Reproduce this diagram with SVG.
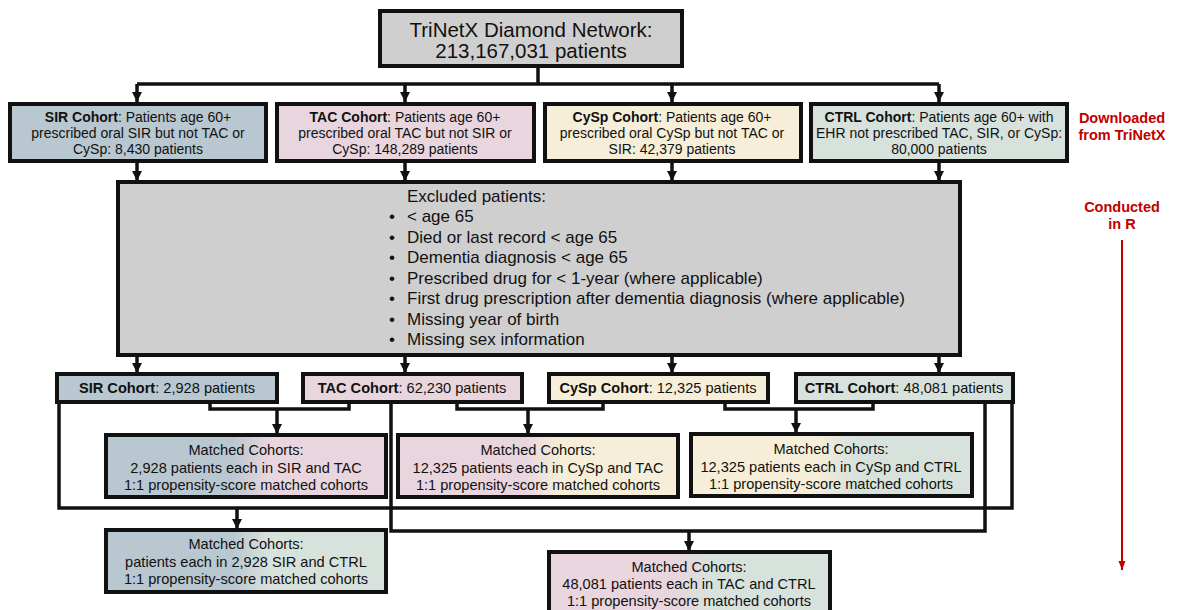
<svg xmlns="http://www.w3.org/2000/svg" width="1178" height="610" viewBox="0 0 1178 610">
<style>
text{font-family:"Liberation Sans",Arial,sans-serif;fill:#111;}
.box{stroke:#111;stroke-width:4;}
.gray{fill:#d0cfd0;}
.sir{fill:#b8c7d0;}
.tac{fill:#e8d5de;}
.cysp{fill:#f6eed8;}
.ctrl{fill:#d8e2dc;}
.t13{font-size:14px;text-anchor:middle;}
.t14{font-size:14.6px;text-anchor:middle;}
.t16{font-size:17px;}
.t20{font-size:20.5px;text-anchor:middle;}
.conn{fill:none;stroke:#111;stroke-width:3.5;}
.red{fill:#c00000;font-size:14.5px;font-weight:bold;text-anchor:middle;}
</style>
<defs>
<marker id="ahd" markerUnits="userSpaceOnUse" markerWidth="12" markerHeight="10" viewBox="0 0 12 10" refX="10" refY="5" orient="auto">
<path d="M0,0 L10,5 L0,10 Z" fill="#111"/>
</marker>
<marker id="ahr" markerUnits="userSpaceOnUse" markerWidth="10" markerHeight="10" viewBox="0 0 10 10" refX="9" refY="5" orient="auto">
<path d="M0,1.5 L9,5 L0,8.5 Z" fill="#c00000"/>
</marker>
<linearGradient id="g-sir-tac" x1="0" x2="1" y1="0" y2="0">
<stop offset="0.45" stop-color="#b8c7d0"/><stop offset="0.58" stop-color="#e8d5de"/>
</linearGradient>
<linearGradient id="g-tac-cysp" x1="0" x2="1" y1="0" y2="0">
<stop offset="0.45" stop-color="#e8d5de"/><stop offset="0.58" stop-color="#f6eed8"/>
</linearGradient>
<linearGradient id="g-cysp-ctrl" x1="0" x2="1" y1="0" y2="0">
<stop offset="0.45" stop-color="#f6eed8"/><stop offset="0.58" stop-color="#d8e2dc"/>
</linearGradient>
<linearGradient id="g-sir-ctrl" x1="0" x2="1" y1="0" y2="0">
<stop offset="0.45" stop-color="#b8c7d0"/><stop offset="0.58" stop-color="#d8e2dc"/>
</linearGradient>
<linearGradient id="g-tac-ctrl" x1="0" x2="1" y1="0" y2="0">
<stop offset="0.45" stop-color="#e8d5de"/><stop offset="0.58" stop-color="#d8e2dc"/>
</linearGradient>
</defs>

<g id="connectors">
<path class="conn" d="M538,66 V84 M137,84 H939"/>
<path class="conn" marker-end="url(#ahd)" d="M137,84 V102"/>
<path class="conn" marker-end="url(#ahd)" d="M405,84 V102"/>
<path class="conn" marker-end="url(#ahd)" d="M672,84 V102"/>
<path class="conn" marker-end="url(#ahd)" d="M939,84 V102"/>
<path class="conn" marker-end="url(#ahd)" d="M137,162 V181"/>
<path class="conn" marker-end="url(#ahd)" d="M405,162 V181"/>
<path class="conn" marker-end="url(#ahd)" d="M672,162 V181"/>
<path class="conn" marker-end="url(#ahd)" d="M939,162 V181"/>
<path class="conn" marker-end="url(#ahd)" d="M137,356 V373"/>
<path class="conn" marker-end="url(#ahd)" d="M405,356 V373"/>
<path class="conn" marker-end="url(#ahd)" d="M672,356 V373"/>
<path class="conn" marker-end="url(#ahd)" d="M939,356 V373"/>
<path class="conn" d="M210,402 V409 H349 V402"/>
<path class="conn" marker-end="url(#ahd)" d="M277,409 V434"/>
<path class="conn" d="M457,402 V409 H603 V402"/>
<path class="conn" marker-end="url(#ahd)" d="M528,409 V434"/>
<path class="conn" d="M725,402 V409 H873 V402"/>
<path class="conn" marker-end="url(#ahd)" d="M796,409 V433"/>
<path class="conn" d="M59,402 V508 H1012 V402"/>
<path class="conn" marker-end="url(#ahd)" d="M237,508 V529"/>
<path class="conn" d="M391,402 V531 H985 V402"/>
<path class="conn" marker-end="url(#ahd)" d="M689,531 V551"/>
<path fill="none" stroke="#c00000" stroke-width="2" marker-end="url(#ahr)" d="M1122,240 V570"/>
</g>

<g id="top">
<rect class="box gray" x="380" y="11" width="302" height="55"/>
<text class="t20" x="531" y="37">TriNetX Diamond Network:</text>
<text class="t20" x="531" y="58">213,167,031 patients</text>
</g>

<g id="sir1">
<rect class="box sir" x="10" y="104" width="256" height="57"/>
<text class="t13" x="138" y="122"><tspan font-weight="bold">SIR Cohort</tspan>: Patients age 60+</text>
<text class="t13" x="138" y="138">prescribed oral SIR but not TAC or</text>
<text class="t13" x="138" y="154">CySp: 8,430 patients</text>
</g>
<g id="tac1">
<rect class="box tac" x="277" y="104" width="257" height="57"/>
<text class="t13" x="405" y="122"><tspan font-weight="bold">TAC Cohort</tspan>: Patients age 60+</text>
<text class="t13" x="405" y="138">prescribed oral TAC but not SIR or</text>
<text class="t13" x="405" y="154">CySp: 148,289 patients</text>
</g>
<g id="cysp1">
<rect class="box cysp" x="545" y="104" width="256" height="57"/>
<text class="t13" x="672" y="122"><tspan font-weight="bold">CySp Cohort</tspan>: Patients age 60+</text>
<text class="t13" x="672" y="138">prescribed oral CySp but not TAC or</text>
<text class="t13" x="672" y="154">SIR: 42,379 patients</text>
</g>
<g id="ctrl1">
<rect class="box ctrl" x="811" y="104" width="256" height="57"/>
<text class="t13" x="939" y="122"><tspan font-weight="bold">CTRL Cohort</tspan>: Patients age 60+ with</text>
<text class="t13" x="939" y="138">EHR not prescribed TAC, SIR, or CySp:</text>
<text class="t13" x="939" y="154">80,000 patients</text>
</g>

<g id="labels">
<text class="red" x="1122" y="123">Downloaded</text>
<text class="red" x="1122" y="140">from TriNetX</text>
<text class="red" x="1122" y="212">Conducted</text>
<text class="red" x="1122" y="229">in R</text>
</g>

<g id="excluded">
<rect class="box gray" x="118" y="182" width="842" height="173"/>
<text class="t16" x="407" y="202">Excluded patients:</text>
<text class="t16" x="389" y="222">•</text><text class="t16" x="407" y="222">&lt; age 65</text>
<text class="t16" x="389" y="243">•</text><text class="t16" x="407" y="243">Died or last record &lt; age 65</text>
<text class="t16" x="389" y="263">•</text><text class="t16" x="407" y="263">Dementia diagnosis &lt; age 65</text>
<text class="t16" x="389" y="284">•</text><text class="t16" x="407" y="284">Prescribed drug for &lt; 1-year (where applicable)</text>
<text class="t16" x="389" y="304">•</text><text class="t16" x="407" y="304">First drug prescription after dementia diagnosis (where applicable)</text>
<text class="t16" x="389" y="325">•</text><text class="t16" x="407" y="325">Missing year of birth</text>
<text class="t16" x="389" y="345">•</text><text class="t16" x="407" y="345">Missing sex information</text>
</g>

<g id="sir2">
<rect class="box sir" x="57" y="374" width="220" height="28"/>
<text class="t14" x="167" y="393"><tspan font-weight="bold">SIR Cohort</tspan>: 2,928 patients</text>
</g>
<g id="tac2">
<rect class="box tac" x="303" y="374" width="219" height="28"/>
<text class="t14" x="412" y="393"><tspan font-weight="bold">TAC Cohort</tspan>: 62,230 patients</text>
</g>
<g id="cysp2">
<rect class="box cysp" x="549" y="374" width="219" height="28"/>
<text class="t14" x="658" y="393"><tspan font-weight="bold">CySp Cohort</tspan>: 12,325 patients</text>
</g>
<g id="ctrl2">
<rect class="box ctrl" x="796" y="374" width="217" height="28"/>
<text class="t14" x="904" y="393"><tspan font-weight="bold">CTRL Cohort</tspan>: 48,081 patients</text>
</g>

<g id="m-sir-tac">
<rect class="box" fill="url(#g-sir-tac)" x="106" y="435" width="280" height="62"/>
<text class="t14" x="246" y="455">Matched Cohorts:</text>
<text class="t14" x="246" y="473">2,928 patients each in SIR and TAC</text>
<text class="t14" x="246" y="490">1:1 propensity-score matched cohorts</text>
</g>
<g id="m-tac-cysp">
<rect class="box" fill="url(#g-tac-cysp)" x="398" y="435" width="280" height="62"/>
<text class="t14" x="538" y="455">Matched Cohorts:</text>
<text class="t14" x="538" y="473">12,325 patients each in CySp and TAC</text>
<text class="t14" x="538" y="490">1:1 propensity-score matched cohorts</text>
</g>
<g id="m-cysp-ctrl">
<rect class="box" fill="url(#g-cysp-ctrl)" x="691" y="434" width="281" height="62"/>
<text class="t14" x="831" y="454">Matched Cohorts:</text>
<text class="t14" x="831" y="472">12,325 patients each in CySp and CTRL</text>
<text class="t14" x="831" y="489">1:1 propensity-score matched cohorts</text>
</g>
<g id="m-sir-ctrl">
<rect class="box" fill="url(#g-sir-ctrl)" x="106" y="530" width="280" height="62"/>
<text class="t14" x="246" y="549">Matched Cohorts:</text>
<text class="t14" x="246" y="567">patients each in 2,928 SIR and CTRL</text>
<text class="t14" x="246" y="584">1:1 propensity-score matched cohorts</text>
</g>
<g id="m-tac-ctrl">
<rect class="box" fill="url(#g-tac-ctrl)" x="549" y="552" width="281" height="70"/>
<text class="t14" x="689" y="572">Matched Cohorts:</text>
<text class="t14" x="689" y="589">48,081 patients each in TAC and CTRL</text>
<text class="t14" x="689" y="606">1:1 propensity-score matched cohorts</text>
</g>
</svg>
